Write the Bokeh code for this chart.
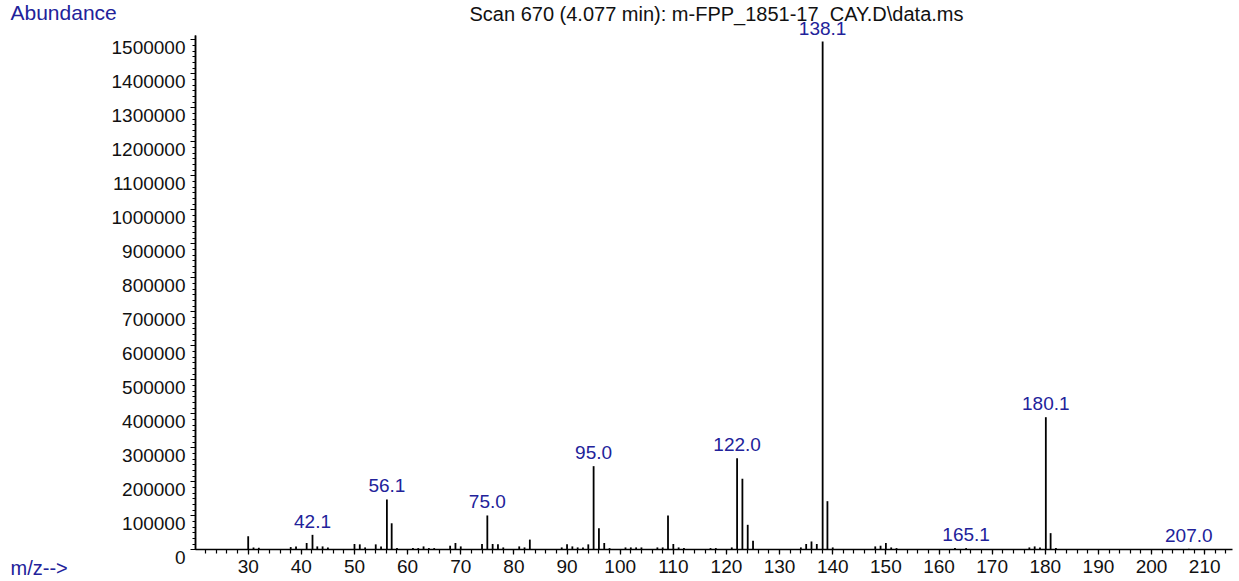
import numpy as np
from bokeh.plotting import figure
from bokeh.models import (ColumnDataSource, LabelSet, Label, SingleIntervalTicker,
                          FixedTicker, BasicTickFormatter, Range1d, LinearAxis)
from bokeh.core.properties import value
from bokeh.embed import file_html
from bokeh.resources import INLINE

# ---- data ----
mz = [30, 31, 32, 38, 39, 41, 42.1, 43, 44, 45, 50, 51, 52, 54, 55, 56.1, 57, 58,
      61, 62, 63, 64, 65, 68, 69, 70, 74, 75.0, 76, 77, 78, 81, 82, 83,
      89, 90, 91, 92, 93, 94, 95.0, 96, 97, 98, 101, 102, 103, 104, 107, 108,
      109, 110, 111, 112, 117, 118, 121, 122.0, 123, 124, 125,
      134, 135, 136, 137, 138.1, 139, 140, 148, 149, 150, 151, 152,
      163, 165.1, 177, 178, 179, 180.1, 181, 182, 207.0]
abundance = [40000, 7000, 6000, 8000, 10000, 20000, 44000, 10000, 10000, 7000,
             17000, 16000, 7000, 16000, 10000, 148000, 78000, 5000,
             5000, 5000, 10000, 5000, 5000, 12000, 20000, 10000, 17000, 101000,
             17000, 16000, 7000, 10000, 7000, 30000,
             7000, 16000, 10000, 7000, 7000, 16000, 246000, 63500, 20000, 5000,
             7000, 7000, 7000, 7000, 7000, 7000,
             101000, 17000, 7000, 5000, 5000, 5000, 7000, 269000, 209000, 73500, 26500,
             7000, 17000, 24500, 17000, 1495000, 143000, 7000, 10000, 12000, 20000,
             7000, 5000,
             5000, 5000, 7000, 10000, 7000, 390000, 49000, 5000, 3000]
labeled_mz = [42.1, 56.1, 75.0, 95.0, 122.0, 138.1, 165.1, 180.1, 207.0]

title_text = "Scan 670 (4.077 min): m-FPP_1851-17_CAY.D\\data.ms"
y_title = "Abundance"
x_title = "m/z-->"

Y_MAJOR = 100000
Y_MINOR_DIV = 6
Y_TOP_TICK = 1500000

lookup = dict(zip(mz, abundance))
lab_src = ColumnDataSource(dict(
    x=labeled_mz,
    y=[lookup[m] for m in labeled_mz],
    t=["%.1f" % m for m in labeled_mz],
))
src = ColumnDataSource(dict(x=mz, y0=[0] * len(mz), y1=abundance))

FONT = "Liberation Sans"
BLUE = "#22229a"
W, H = 1239, 581

# ---- layout: the frame fills the canvas; axes are drawn at fixed data locations ----
PX_PER_MZ = 5.314      # pixels per m/z unit
PX_MZ30 = 247.7        # pixel column of m/z 30
PX_PER_UNIT_Y = 34 / 100000.0
PX_Y0 = 549.3          # pixel row of abundance 0
LABEL_DROP_PX = 7.5    # y tick labels sit this far below their ticks


def px2x(px):
    return 30 + (px - PX_MZ30) / PX_PER_MZ


def px2y(py):
    return (PX_Y0 - py) / PX_PER_UNIT_Y


X_AXIS_START = px2x(195)
X_AXIS_END = px2x(1232)
Y_AXIS_END = px2y(35)
Y_START, Y_END = px2y(H), px2y(0)
DROP = LABEL_DROP_PX / PX_PER_UNIT_Y

p = figure(width=W, height=H, output_backend="svg", toolbar_location=None,
           x_range=Range1d(px2x(0), px2x(W)), y_range=Range1d(Y_START, Y_END),
           min_border=0)
p.extra_y_ranges = {"ylab": Range1d(Y_START + DROP, Y_END + DROP)}
p.grid.visible = False
p.outline_line_color = None
p.background_fill_color = "white"
p.border_fill_color = "white"

p.segment(x0="x", y0="y0", x1="x", y1="y1", source=src, line_color="#000000",
          line_width=1.8)

xa = p.xaxis[0]
xa.fixed_location = 0
xa.bounds = (X_AXIS_START, X_AXIS_END)
xa.ticker = SingleIntervalTicker(interval=10, num_minor_ticks=5)
xa.major_tick_in = 0
xa.major_tick_out = 5
xa.minor_tick_in = 0
xa.minor_tick_out = 4
xa.major_label_standoff = 5
xa.major_label_text_font = FONT
xa.major_label_text_font_size = "19px"
xa.major_label_text_color = "#111111"
xa.axis_line_width = 1.5
xa.major_tick_line_width = 1.2
xa.minor_tick_line_width = 1.2

# y axis: the line with its major and minor tick marks (no labels)
major_vals = list(np.arange(0, Y_TOP_TICK + 1, Y_MAJOR))
minor_vals = list(np.arange(0, Y_TOP_TICK + 1, Y_MAJOR / Y_MINOR_DIV))

ya = p.yaxis[0]
ya.fixed_location = X_AXIS_START
ya.bounds = (0, Y_AXIS_END)
ya.ticker = FixedTicker(ticks=[], minor_ticks=major_vals)
ya.minor_tick_in = 0
ya.minor_tick_out = 5
ya.axis_line_width = 1.5
ya.minor_tick_line_width = 1.2

ym = LinearAxis(fixed_location=X_AXIS_START, bounds=(0, Y_AXIS_END),
                ticker=FixedTicker(ticks=[], minor_ticks=minor_vals),
                minor_tick_in=0, minor_tick_out=3, minor_tick_line_width=1.2,
                axis_line_width=1.5)
p.add_layout(ym, "left")

# y axis: tick labels, set slightly below their ticks as in the reference
yl = LinearAxis(y_range_name="ylab", fixed_location=X_AXIS_START,
                bounds=(0, Y_AXIS_END),
                ticker=SingleIntervalTicker(interval=Y_MAJOR, num_minor_ticks=0),
                formatter=BasicTickFormatter(use_scientific=False),
                axis_line_color=None, major_tick_line_color=None,
                minor_tick_line_color=None, major_tick_in=0, major_tick_out=5,
                major_label_standoff=5, major_label_text_font=FONT,
                major_label_text_font_size="19px", major_label_text_color="#111111")
p.add_layout(yl, "left")

title = Label(x=px2x(716), y=px2y(13), text=title_text,
              text_font=FONT, text_font_size="20px", text_color="#111111",
              text_align="center", text_baseline="middle")
p.add_layout(title)

ab = Label(x=px2x(10), y=px2y(12), text=y_title,
           text_font=FONT, text_font_size="21px", text_color=BLUE,
           text_align="left", text_baseline="middle")
p.add_layout(ab)

mzl = Label(x=px2x(10), y=px2y(567), text=x_title,
            text_font=FONT, text_font_size="20px", text_color=BLUE,
            text_align="left", text_baseline="middle")
p.add_layout(mzl)

labels = LabelSet(x="x", y="y", text="t", source=lab_src, text_align="center",
                  text_baseline="bottom", text_font=value(FONT), text_font_size="19px",
                  text_color=BLUE, background_fill_color="white", y_offset=7)
p.add_layout(labels)

open("out.html", "w").write(file_html(p, INLINE))
